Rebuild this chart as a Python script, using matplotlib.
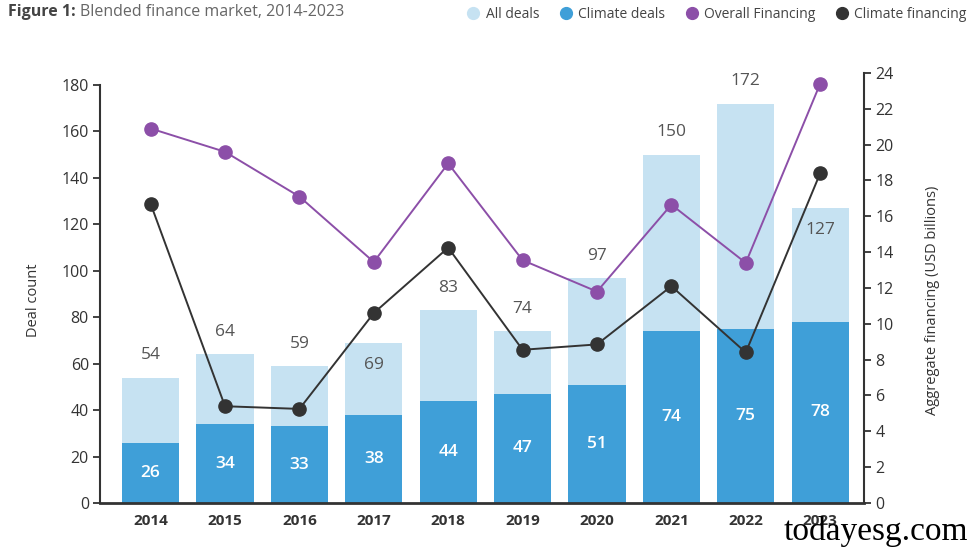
import numpy as np
import matplotlib
matplotlib.use('Agg')
import matplotlib.pyplot as plt
from matplotlib.lines import Line2D

plt.rcParams['font.family'] = ['Open Sans', 'DejaVu Sans']

# Data
years = ['2014', '2015', '2016', '2017', '2018', '2019', '2020', '2021', '2022', '2023']
all_deals = [54, 64, 59, 69, 83, 74, 97, 150, 172, 127]
climate_deals = [26, 34, 33, 38, 44, 47, 51, 74, 75, 78]
overall_financing = [20.9, 19.6, 17.1, 13.45, 18.95, 13.55, 11.8, 16.65, 13.4, 23.4]
climate_financing = [16.7, 5.4, 5.25, 10.6, 14.25, 8.55, 8.85, 12.1, 8.4, 18.4]

# years whose "all deals" label sits inside the bar top (line passes above)
inside_label = {'2017', '2023'}

# Colours
c_all = '#c6e2f2'
c_clim = '#3f9fd8'
c_over = '#8c4fa8'
c_cfin = '#333333'
c_text = '#333333'

fig = plt.figure(figsize=(9.75, 5.52), dpi=100)
ax = fig.add_axes([0.1026, 0.0888, 0.7836, 0.779])
ax2 = ax.twinx()

x = np.arange(len(years))
w = 0.77
ax.bar(x, all_deals, w, color=c_all, zorder=1)
ax.bar(x, climate_deals, w, color=c_clim, zorder=2)

# Value labels
for i, (a, c) in enumerate(zip(all_deals, climate_deals)):
    dy = -16 if years[i] in inside_label else 16
    ax.annotate(str(a), (x[i], a), xytext=(0, dy), textcoords='offset points',
                ha='center', va='center', fontsize=12.5, color='#555555')
    ax.text(x[i], c / 2, str(c), ha='center', va='center', fontsize=12.5,
            color='white', fontweight='semibold')

ax2.plot(x, overall_financing, color=c_over, lw=1.4, marker='o', ms=9.5, zorder=3)
ax2.plot(x, climate_financing, color=c_cfin, lw=1.4, marker='o', ms=9.5, zorder=3)

# Axes setup
ax.set_xlim(-0.68, 9.59)
ax.set_ylim(0, 185.2)
ax.set_yticks(np.arange(0, 181, 20))
ax2.set_ylim(0, 24)
ax2.set_yticks(np.arange(0, 25, 2))
ax.set_xticks(x)
ax.set_xticklabels(years, fontweight='bold')

for a in (ax, ax2):
    a.spines['top'].set_visible(False)
    a.tick_params(axis='y', length=5, width=1.3, colors=c_text, labelsize=11.5, pad=3)
ax.spines['right'].set_visible(False)
ax.spines['left'].set_bounds(0, 180)
ax.spines['left'].set_linewidth(1.5)
ax.spines['left'].set_color(c_text)
ax.spines['bottom'].set_linewidth(2)
ax.spines['bottom'].set_color(c_text)
ax2.spines['left'].set_visible(False)
ax2.spines['bottom'].set_visible(False)
ax2.spines['right'].set_linewidth(1.5)
ax2.spines['right'].set_color(c_text)
ax.tick_params(axis='x', length=0, labelsize=11, colors=c_text, pad=8)

ax.set_ylabel('Deal count', fontsize=10.5, color=c_text)
ax.yaxis.set_label_coords(-0.077, 0.472)
ax2.set_ylabel('Aggregate financing (USD billions)', fontsize=10.5, color=c_text)
ax2.yaxis.set_label_coords(1.08, 0.472)

# Title
fig.text(0.008, 0.978, 'Figure 1:', fontsize=11.5, fontweight='bold', color='#444444',
         ha='left', va='center')
fig.text(0.082, 0.978, 'Blended finance market, 2014-2023', fontsize=11.5, color='#666666',
         ha='left', va='center')

# Legend
handles = [
    Line2D([], [], ls='none', marker='o', ms=8.5, color=c_all),
    Line2D([], [], ls='none', marker='o', ms=8.5, color=c_clim),
    Line2D([], [], ls='none', marker='o', ms=8.5, color=c_over),
    Line2D([], [], ls='none', marker='o', ms=8.5, color=c_cfin),
]
labels = ['All deals', 'Climate deals', 'Overall Financing', 'Climate financing']
fig.legend(handles, labels, loc='center right', bbox_to_anchor=(1.0, 0.974), ncol=4,
           frameon=False, fontsize=10, labelcolor='#444444', handletextpad=0.4,
           columnspacing=1.4, handlelength=1.0, borderaxespad=0.2)

# Watermark
fig.text(0.993, 0.038, 'todayesg.com', fontsize=24, family='Liberation Serif',
         color='black', ha='right', va='center')

fig.savefig('out.png', dpi=100)
